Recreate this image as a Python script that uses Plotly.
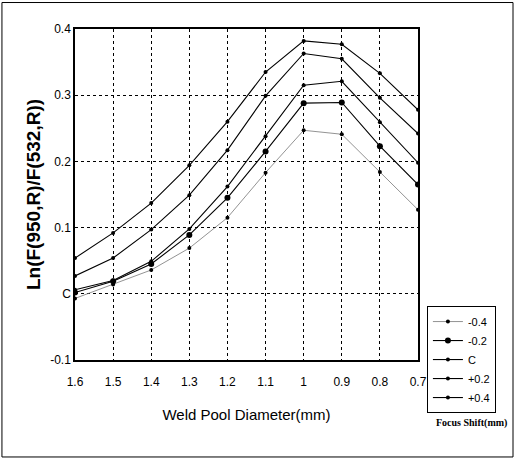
import plotly.graph_objects as go

diameters = [1.6, 1.5, 1.4, 1.3, 1.2, 1.1, 1.0, 0.9, 0.8, 0.7]
x_tick_labels = ["1.6", "1.5", "1.4", "1.3", "1.2", "1.1", "1", "0.9", "0.8", "0.7"]
y_tick_vals = [-0.1, 0, 0.1, 0.2, 0.3, 0.4]
y_tick_labels = ["-0.1", "C", "0.1", "0.2", "0.3", "0.4"]

shift_m04 = [-0.007, 0.014, 0.036, 0.069, 0.115, 0.183, 0.247, 0.241, 0.184, 0.127]
shift_m02 = [0.002, 0.019, 0.045, 0.089, 0.145, 0.215, 0.288, 0.289, 0.223, 0.165]
shift_0 = [0.006, 0.020, 0.049, 0.098, 0.162, 0.238, 0.315, 0.321, 0.259, 0.198]
shift_p02 = [0.027, 0.054, 0.097, 0.149, 0.217, 0.299, 0.363, 0.355, 0.296, 0.242]
shift_p04 = [0.054, 0.092, 0.137, 0.194, 0.260, 0.335, 0.382, 0.377, 0.333, 0.278]

series = [
    ("-0.4", shift_m04, "#777777", 0.8, 4),
    ("-0.2", shift_m02, "black", 1.1, 6),
    ("C", shift_0, "black", 1.1, 4),
    ("+0.2", shift_p02, "black", 1.1, 4),
    ("+0.4", shift_p04, "black", 1.1, 4),
]

sans = "Liberation Sans, Arial"

fig = go.Figure()
for name, vals, col, w, ms in series:
    fig.add_trace(go.Scatter(
        x=diameters, y=vals, name=name, mode="lines+markers",
        line=dict(color=col, width=w),
        marker=dict(color="black", size=ms, symbol="circle"),
    ))

fig.update_layout(
    width=515, height=461,
    margin=dict(l=75, r=97, t=29, b=101),
    paper_bgcolor="white", plot_bgcolor="white",
    font=dict(family=sans, color="black", size=12),
    showlegend=True,
    legend=dict(
        x=1.026, y=0.163, xanchor="left", yanchor="top",
        bgcolor="white", bordercolor="black", borderwidth=1,
        font=dict(family=sans, size=11, color="black"),
        tracegroupgap=0, itemwidth=30,
    ),
)
fig.update_xaxes(
    range=[1.6, 0.7], tickvals=diameters, ticktext=x_tick_labels,
    showgrid=True, gridcolor="black", griddash="dot", gridwidth=1,
    showline=True, linecolor="black", linewidth=1.5, mirror=True,
    zeroline=False, ticks="", ticklabelstandoff=10, tickfont=dict(size=12, family=sans),
    title=dict(text="Weld Pool Diameter(mm)", font=dict(size=15, family=sans), standoff=21),
)
fig.update_yaxes(
    range=[-0.1, 0.4], tickvals=y_tick_vals, ticktext=y_tick_labels,
    showgrid=True, gridcolor="black", griddash="dot", gridwidth=1,
    showline=True, linecolor="black", linewidth=1.5, mirror=True,
    zeroline=False, ticks="", tickfont=dict(size=12, family=sans),
    title=dict(text="<b>Ln(F(950,R)/F(532,R))</b>", font=dict(size=19, family=sans), standoff=5),
)
fig.add_annotation(
    text="<b>Focus Shift(mm)</b>", xref="paper", yref="paper",
    x=1.155, y=-0.19, xanchor="center", yanchor="middle", showarrow=False,
    font=dict(family="Liberation Serif, Times New Roman", size=10, color="black"),
)
fig.add_shape(type="rect", xref="paper", yref="paper",
              x0=-0.213, x1=1.277, y0=-0.293, y1=1.08,
              line=dict(color="black", width=1))
fig.write_html("out.html", config={"displayModeBar": False},
               post_script="document.body.style.margin='0px';")
